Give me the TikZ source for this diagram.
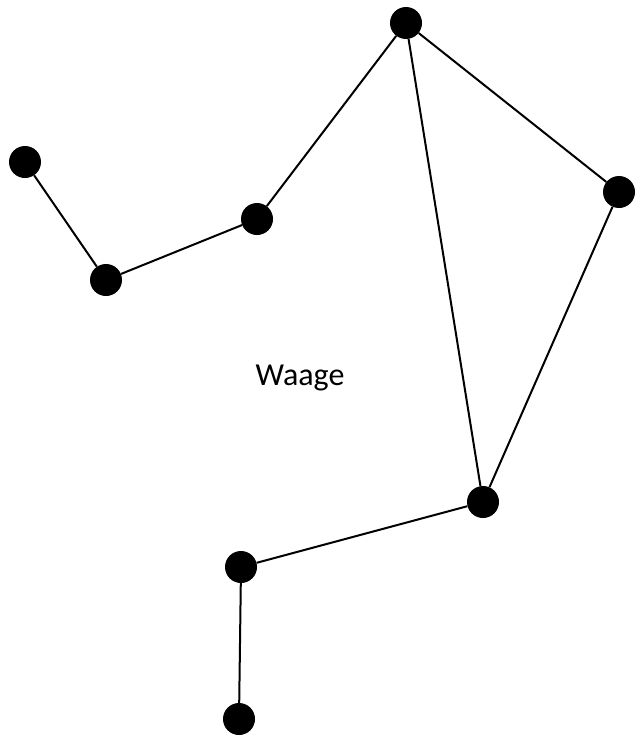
\documentclass[tikz,border=0pt]{standalone}
\usepackage{fontspec}
\setmainfont{Carlito}
\tikzset{dot/.style={circle,fill=black,inner sep=0pt,minimum size=32pt},
  edge/.style={line width=2pt}}
\begin{document}
\begin{tikzpicture}[x=1pt,y=-1pt]
\useasboundingbox (0,0) rectangle (635,736);
\node[dot] (a) at (25,162) {};
\node[dot] (b) at (106,280) {};
\node[dot] (c) at (257,219) {};
\node[dot] (d) at (406,23) {};
\node[dot] (e) at (619,192) {};
\node[dot] (f) at (483,502) {};
\node[dot] (g) at (241,567) {};
\node[dot] (h) at (239,719) {};
\node[font=\fontsize{32}{38}\selectfont] (t) at (300,378) {Waage};
\draw[edge] (a) -- (b) -- (c) -- (d) -- (e) -- (f) -- (g) -- (h);
\draw[edge] (d) -- (f);
\end{tikzpicture}
\end{document}
